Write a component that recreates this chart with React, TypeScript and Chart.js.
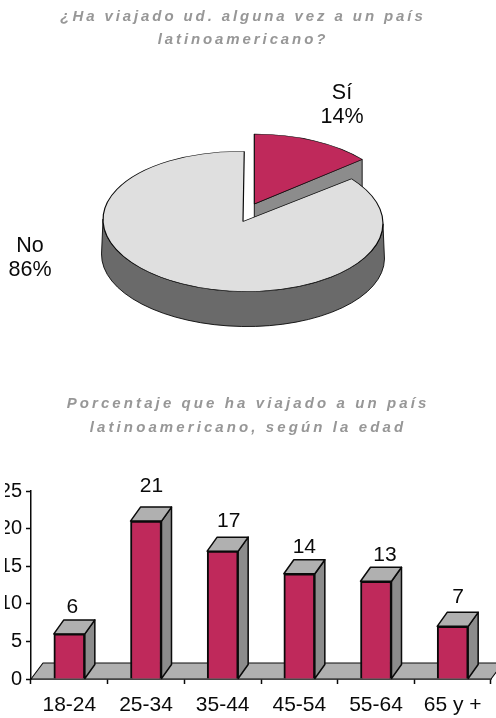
import React, { useEffect, useRef } from "react";
import { Chart, registerables } from "chart.js";

Chart.register(...registerables);

const pieTitle = ["¿Ha viajado ud. alguna vez a un país", "latinoamericano?"];
const pieLabels = ["Sí", "No"];
const pieValues = [14, 86];

const barTitle = ["Porcentaje que ha viajado a un país", "latinoamericano, según la edad"];
const ageGroups = ["18-24", "25-34", "35-44", "45-54", "55-64", "65 y +"];
const travelled = [6, 21, 17, 14, 13, 7];

const FONT = '"Liberation Sans", Arial, sans-serif';
const CRIMSON = "#bf295b";
const INK = "#0a0a0a";
const TITLE_GREY = "#979797";

const PIE = {
  radius: 140,
  squash: 0.5,
  depth: 35,
  fills: [CRIMSON, "#dfdfdf"],
  rimFills: ["#8c8c8c", "#6a6a6a"],
  radialFills: ["#8c8c8c", "#8c8c8c"],
  explode: [[11.3, -17.5], [0, 0]],
  tilt: [0, 0.018],
  labelAt: [[342, 105], [30, 258]],
};

const BAR = {
  thickness: 31,
  depthX: 10,
  depthY: 14,
  floorX: 12,
  floorY: 16,
  topFill: "#b0b0b0",
  sideFill: "#8c8c8c",
  labelNudgeX: [3, 5.5, 6, 5, 9, 5.5],
  labelGapY: [13, 21, 16, 13, 12, 15],
};

const spacedTitle = (spacing: string) => ({
  id: "spacedTitle",
  beforeDraw(chart: any) {
    chart.ctx.letterSpacing = spacing;
  },
  beforeDatasetsDraw(chart: any) {
    chart.ctx.letterSpacing = "0px";
  },
});

const pie3d = {
  id: "pie3d",
  beforeDatasetDraw() {
    return false;
  },
  afterDatasetsDraw(chart: any) {
    const { ctx } = chart;
    const arcs = chart.getDatasetMeta(0).data;
    arcs.forEach((arc: any, i: number) => {
      const [dx, dy] = PIE.explode[i];
      const tilt = PIE.tilt[i];
      const cx = arc.x + dx;
      const cy = arc.y + dy;
      const R = arc.outerRadius;
      const r = R * PIE.squash;
      const start = arc.startAngle;
      const end = arc.endAngle;
      ctx.save();
      ctx.lineWidth = 0.9;
      ctx.strokeStyle = INK;
      ctx.lineJoin = "round";

      // radial faces turned towards the viewer
      const radial = (a: number) => {
        const ex = cx + R * Math.cos(a);
        const ey = cy + r * Math.sin(a);
        ctx.beginPath();
        ctx.moveTo(cx, cy);
        ctx.lineTo(ex, ey);
        ctx.lineTo(ex, ey + PIE.depth);
        ctx.lineTo(cx, cy + PIE.depth);
        ctx.closePath();
        ctx.fillStyle = PIE.radialFills[i];
        ctx.fill();
        ctx.stroke();
      };
      if (Math.cos(end) > 0.001) radial(end);
      if (Math.cos(start) < -0.001) radial(start);

      // outer rim: only the front half of the ellipse shows
      const from = Math.max(start, 0);
      const to = Math.min(end, Math.PI);
      if (to > from) {
        ctx.beginPath();
        ctx.ellipse(cx, cy, R, r, tilt, from, to);
        ctx.ellipse(cx, cy + PIE.depth, R + 1.5, r, tilt, to, from, true);
        ctx.closePath();
        ctx.fillStyle = PIE.rimFills[i];
        ctx.fill();
        ctx.stroke();
      }

      // the top face is the library's own arc element, laid flat
      ctx.translate(cx, cy);
      ctx.rotate(tilt);
      ctx.scale(1, PIE.squash);
      ctx.translate(-arc.x, -arc.y);
      arc.draw(ctx);
      ctx.restore();
    });

    ctx.save();
    ctx.font = `21.5px ${FONT}`;
    ctx.fillStyle = INK;
    ctx.textAlign = "center";
    ctx.textBaseline = "middle";
    pieLabels.forEach((label, i) => {
      const [x, y] = PIE.labelAt[i];
      ctx.fillText(label, x, y - 12);
      ctx.fillText(`${pieValues[i]}%`, x, y + 12);
    });
    ctx.restore();
  },
};

const bar3d = {
  id: "bar3d",
  beforeDatasetsDraw(chart: any) {
    const { ctx, chartArea } = chart;
    const base = chart.scales.y.getPixelForValue(0);
    const poly = (pts: number[][], fill: string, width: number) => {
      ctx.beginPath();
      pts.forEach(([x, y], k) => (k ? ctx.lineTo(x, y) : ctx.moveTo(x, y)));
      ctx.closePath();
      ctx.fillStyle = fill;
      ctx.fill();
      ctx.lineWidth = width;
      ctx.strokeStyle = INK;
      ctx.stroke();
    };
    ctx.save();
    ctx.lineJoin = "round";
    poly(
      [
        [chartArea.left, base],
        [chartArea.left + BAR.floorX, base - BAR.floorY],
        [chartArea.right + BAR.floorX, base - BAR.floorY],
        [chartArea.right, base],
      ],
      BAR.topFill,
      1.1
    );
    chart.getDatasetMeta(0).data.forEach((bar: any) => {
      const l = bar.x - bar.width / 2;
      const r = bar.x + bar.width / 2;
      const { depthX: dx, depthY: dy } = BAR;
      poly([[r, bar.y], [r + dx, bar.y - dy], [r + dx, bar.base - dy], [r, bar.base]], BAR.sideFill, 1.5);
      poly([[l, bar.y], [l + dx, bar.y - dy], [r + dx, bar.y - dy], [r, bar.y]], BAR.topFill, 1.5);
    });
    ctx.restore();
  },
  afterDatasetsDraw(chart: any) {
    const { ctx } = chart;
    ctx.save();
    ctx.font = `21px ${FONT}`;
    ctx.fillStyle = INK;
    ctx.textAlign = "center";
    ctx.textBaseline = "middle";
    chart.getDatasetMeta(0).data.forEach((bar: any, i: number) => {
      ctx.fillText(
        String(travelled[i]),
        bar.x + BAR.labelNudgeX[i],
        bar.y - BAR.depthY - BAR.labelGapY[i]
      );
    });
    ctx.restore();
  },
};

export default function App() {
  const pieRef = useRef<HTMLCanvasElement>(null);
  const barRef = useRef<HTMLCanvasElement>(null);

  useEffect(() => {
    const pie = new Chart(pieRef.current!, {
      type: "pie",
      data: {
        labels: pieLabels,
        datasets: [
          {
            data: pieValues,
            backgroundColor: PIE.fills,
            borderColor: INK,
            borderWidth: 1.2,
            radius: PIE.radius,
          } as any,
        ],
      },
      options: {
        animation: false,
        responsive: false,
        layout: { padding: { right: 10 } },
        plugins: {
          legend: { display: false },
          tooltip: { enabled: false },
          title: {
            display: true,
            text: pieTitle,
            color: TITLE_GREY,
            font: { family: FONT, size: 15, weight: "bold", style: "italic", lineHeight: 23 / 15 },
            padding: { top: 5.5, bottom: 21.5 },
          },
        },
      },
      plugins: [spacedTitle("2.9px"), pie3d],
    } as any);

    const bar = new Chart(barRef.current!, {
      type: "bar",
      data: {
        labels: ageGroups,
        datasets: [
          {
            data: travelled,
            backgroundColor: CRIMSON,
            borderColor: INK,
            borderWidth: 2,
            barThickness: BAR.thickness,
          },
        ],
      },
      options: {
        animation: false,
        responsive: false,
        layout: { padding: { left: 5, right: 5 } },
        plugins: {
          legend: { display: false },
          tooltip: { enabled: false },
          title: {
            display: true,
            text: barTitle,
            color: TITLE_GREY,
            font: { family: FONT, size: 15, weight: "bold", style: "italic", lineHeight: 24 / 15 },
            padding: { top: 22, bottom: 51 },
          },
        },
        scales: {
          x: {
            afterFit(scale: any) {
              scale.height = 39;
            },
            grid: { drawOnChartArea: false, color: INK, tickLength: 5, tickWidth: 1.5, tickColor: INK },
            border: { color: INK, width: 1.5 },
            ticks: {
              z: 1,
              color: INK,
              font: { family: FONT, size: 21 },
              padding: 8.5,
              maxRotation: 0,
              autoSkip: false,
            },
          },
          y: {
            min: 0,
            max: 25,
            afterFit(scale: any) {
              scale.width = 26;
            },
            grid: { drawOnChartArea: false, color: INK, tickLength: 5, tickWidth: 1.5, tickColor: INK },
            border: { color: INK, width: 1.5 },
            ticks: {
              z: 1,
              stepSize: 5,
              color: INK,
              font: { family: FONT, size: 20 },
              padding: 4,
              autoSkip: false,
            },
          },
        },
      },
      plugins: [spacedTitle("3.1px"), bar3d],
    } as any);

    return () => {
      pie.destroy();
      bar.destroy();
    };
  }, []);

  return (
    <div style={{ position: "absolute", left: 0, top: 0, width: 496, height: 718, overflow: "hidden", background: "#fff" }}>
      <canvas ref={pieRef} width={496} height={370} style={{ display: "block" }} />
      <canvas ref={barRef} width={496} height={348} style={{ display: "block" }} />
    </div>
  );
}
